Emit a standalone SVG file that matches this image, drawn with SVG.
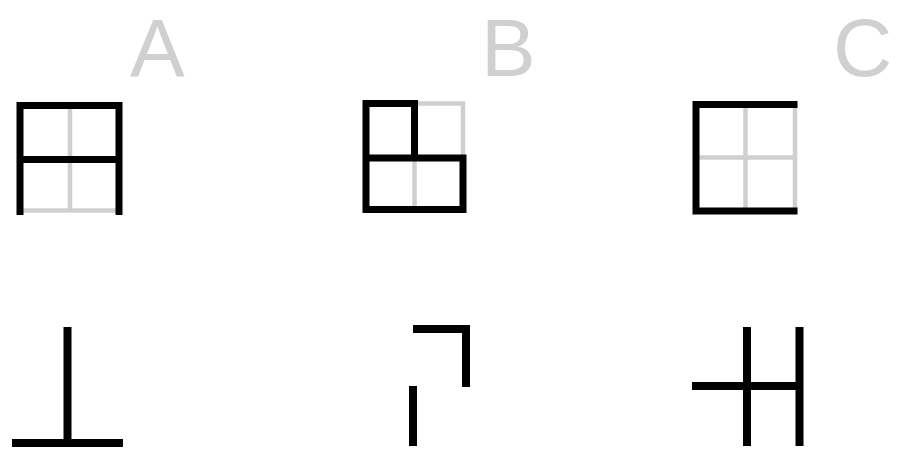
<svg xmlns="http://www.w3.org/2000/svg" width="906" height="461" viewBox="0 0 906 461">
<style>
.bg{fill:#fff}
.k{fill:none;stroke:#000;stroke-width:7;stroke-linejoin:miter;stroke-linecap:butt}
.kb{fill:none;stroke:#000;stroke-width:8;stroke-linejoin:miter;stroke-linecap:butt}
.g{fill:none;stroke:#cfcfcf;stroke-width:4.5}
.lbl{font-family:"Liberation Sans",Arial,sans-serif;font-size:82px;fill:#d0d0d0}
</style>
<rect class="bg" x="0" y="0" width="906" height="461"/>
<g id="labels">
<text class="lbl" x="130" y="76">A</text>
<text class="lbl" x="481" y="76">B</text>
<text class="lbl" x="833" y="76">C</text>
</g>
<g id="gridA">
<path class="g" d="M70 105.5 V210.5 M20 210.5 H119"/>
<path class="k" d="M20 215 V105.5 H119 V215 M20 159.5 H119"/>
</g>
<g id="gridB">
<path class="g" d="M414.5 103.5 H463 V158 M414.5 158 V209.5"/>
<path class="k" d="M366 103.5 H414.5 V158 M366 100 V209.5 H463 V158 H366"/>
</g>
<g id="gridC">
<path class="g" d="M745.5 104.5 V211 M795 104.5 V211 M696 157.5 H795"/>
<path class="k" d="M797.5 104.5 H696 V211 H797.5"/>
</g>
<g id="figA">
<path class="kb" d="M67.5 327 V443 M12 443 H123"/>
</g>
<g id="figB">
<path class="kb" d="M413 329 H466 V387 M413 386 V446"/>
</g>
<g id="figC">
<path class="kb" d="M747 327 V446 M799.5 327 V446 M692 386 H803"/>
</g>
</svg>
